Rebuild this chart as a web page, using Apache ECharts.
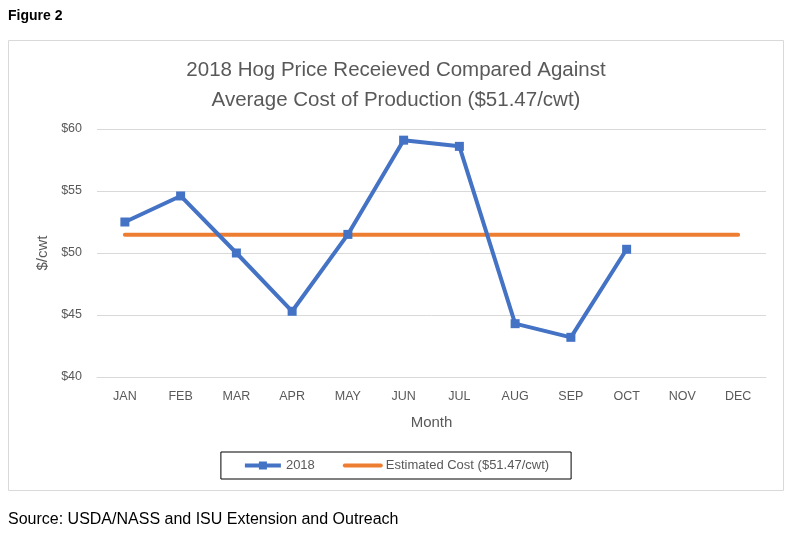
<!DOCTYPE html>
<html>
<head>
<meta charset="utf-8">
<script src="https://cdn.jsdelivr.net/npm/echarts@6/dist/echarts.min.js"></script>
<style>
html,body{margin:0;padding:0;background:#fff;}
#chart{width:792px;height:535px;}
</style>
</head>
<body>
<div id="chart"></div>
<script>
const months = ['JAN','FEB','MAR','APR','MAY','JUN','JUL','AUG','SEP','OCT','NOV','DEC'];
const price2018 = [52.5, 54.6, 50.0, 45.3, 51.5, 59.1, 58.6, 44.3, 43.2, 50.3, null, null];
const estCost = [51.47, 51.47, 51.47, 51.47, 51.47, 51.47, 51.47, 51.47, 51.47, 51.47, 51.47, 51.47];
const yTicks = [40, 45, 50, 55, 60];

const FONT = 'Liberation Sans';
const chart = echarts.init(document.getElementById('chart'));
chart.setOption({
  backgroundColor: '#fff',
  animation: false,
  textStyle: { fontFamily: FONT },
  title: [
    { text: 'Figure 2', left: 3, top: 4, textStyle: { fontFamily: FONT, fontSize: 14, fontWeight: 'bold', color: '#000' } },
    { text: '2018 Hog Price Receieved Compared Against\nAverage Cost of Production ($51.47/cwt)', left: 391, textAlign: 'center', top: 50,
      textStyle: { fontFamily: FONT, fontSize: 20.5, fontWeight: 'normal', color: '#595959', lineHeight: 30 } },
    { text: 'Source: USDA/NASS and ISU Extension and Outreach', left: 3, top: 507, textStyle: { fontFamily: FONT, fontSize: 16, fontWeight: 'normal', color: '#000' } }
  ],
  graphic: [
    { type: 'rect', shape: { x: 8.5, y: 40.5, width: 775, height: 450 }, style: { fill: 'none', stroke: '#d9d9d9', lineWidth: 1 }, z: -1 }
  ],
  grid: { left: 97, right: 26, top: 129, bottom: 158, containLabel: false },
  xAxis: {
    type: 'category', data: months, boundaryGap: true,
    name: 'Month', nameLocation: 'middle', nameGap: 38,
    nameTextStyle: { color: '#595959', fontSize: 15, fontFamily: FONT },
    axisLine: { show: true, lineStyle: { color: '#d9d9d9' } },
    axisTick: { show: false },
    axisLabel: { color: '#595959', fontSize: 12.5, margin: 13, fontFamily: FONT }
  },
  yAxis: {
    type: 'value', min: 40, max: 60, interval: 5,
    name: '$/cwt', nameLocation: 'middle', nameGap: 43, nameRotate: 90,
    nameTextStyle: { color: '#595959', fontSize: 15, fontFamily: FONT },
    axisLine: { show: false }, axisTick: { show: false },
    splitLine: { lineStyle: { color: '#d9d9d9', width: 1 } },
    axisLabel: { color: '#595959', fontSize: 12.5, margin: 15, fontFamily: FONT, formatter: v => '$' + v }
  },
  legend: {
    bottom: 56, left: 'center',
    padding: [7, 22, 7, 22],
    borderColor: '#000', borderWidth: 1,
    itemWidth: 36, itemHeight: 10, itemGap: 28,
    lineStyle: { width: 4 },
    textStyle: { color: '#595959', fontSize: 13, fontFamily: FONT },
    data: ['2018', { name: 'Estimated Cost ($51.47/cwt)', itemStyle: { opacity: 0 } }]
  },
  series: [
    { name: 'Estimated Cost ($51.47/cwt)', type: 'line', data: estCost, symbol: 'none',
      lineStyle: { color: '#ed7d31', width: 4, cap: 'round' }, itemStyle: { color: '#ed7d31' }, z: 2 },
    { name: '2018', type: 'line', data: price2018, symbol: 'rect', symbolSize: 9,
      lineStyle: { color: '#4472c4', width: 4 }, itemStyle: { color: '#4472c4' }, z: 3 }
  ]
});
</script>
</body>
</html>
